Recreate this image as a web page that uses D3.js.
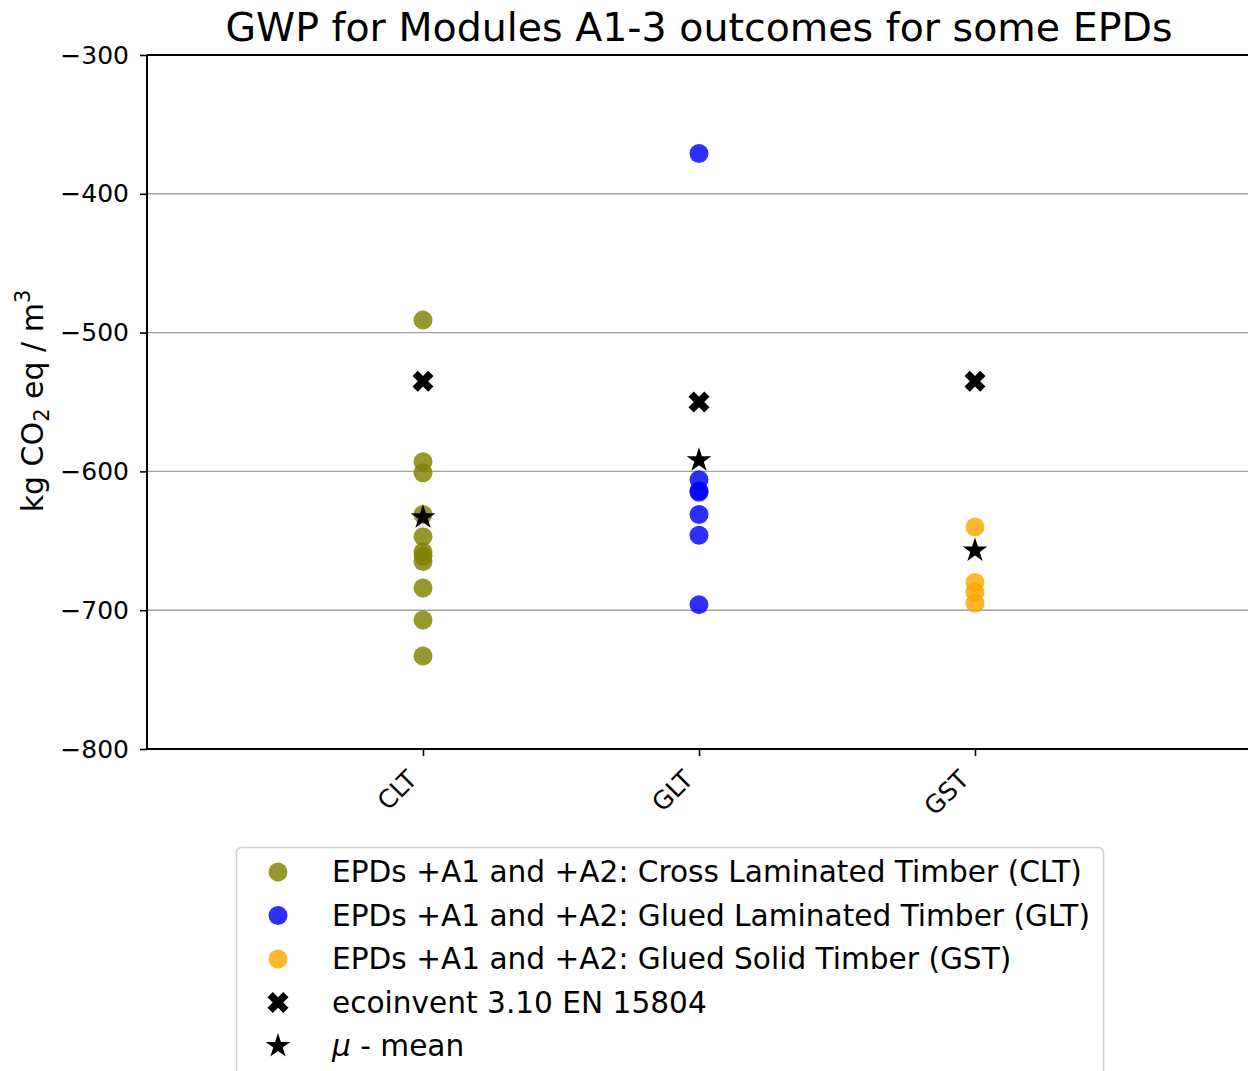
<!DOCTYPE html>
<html>
<head>
<meta charset="utf-8">
<script src="https://cdn.jsdelivr.net/npm/d3@7"></script>
<style>
  html, body { margin: 0; padding: 0; background: #fff; }
  svg { display: block; font-family: "DejaVu Sans", sans-serif; }
</style>
</head>
<body>
<svg id="chart" width="1248" height="1071"></svg>
<script>
// ---- data ----
const categories = ["CLT", "GLT", "GST"];
const cltValues = [-491, -593, -601, -631, -647, -658, -661, -665, -684, -707, -733];
const gltValues = [-371, -606, -614, -615, -631, -646, -696];
const gstValues = [-640, -680, -687, -695];
const ecoinventValues = [-535, -550, -535];
const meanValues = [-633, -592, -657];
const yTicks = [-300, -400, -500, -600, -700, -800];
const seriesLabels = [
  "EPDs +A1 and +A2: Cross Laminated Timber (CLT)",
  "EPDs +A1 and +A2: Glued Laminated Timber (GLT)",
  "EPDs +A1 and +A2: Glued Solid Timber (GST)",
  "ecoinvent 3.10 EN 15804",
  "\u03bc - mean"
];
const seriesColors = ["#808000", "#0000ff", "#ffa500"];
const titleText = "GWP for Modules A1-3 outcomes for some EPDs";

// ---- layout ----
const svg = d3.select("#chart");
const mLeft = 147, mRight = 1251, mTop = 55, mBottom = 749;

const x = d3.scalePoint().domain(categories).range([mLeft, mRight]).padding(1);
const y = d3.scaleLinear().domain([-800, -300]).range([mBottom, mTop]);

// grid
svg.append("g").selectAll("line").data(yTicks.filter(t => t !== -300 && t !== -800)).join("line")
  .attr("x1", mLeft).attr("x2", mRight)
  .attr("y1", d => y(d)).attr("y2", d => y(d))
  .attr("stroke", "#a0a0a0").attr("stroke-width", 1.4);

// axes
const yAxis = d3.axisLeft(y).tickValues(yTicks).tickSize(7).tickPadding(11)
  .tickFormat(d => d3.format("d")(d).replace("-", "\u2212"));
const gy = svg.append("g").attr("transform", `translate(${mLeft},0)`).call(yAxis);
gy.select(".domain").remove();
gy.selectAll(".tick line").attr("stroke", "#000").attr("stroke-width", 1.6);
gy.selectAll(".tick text").attr("font-size", 25).attr("fill", "#000")
  .attr("font-family", "DejaVu Sans");

const xAxis = d3.axisBottom(x).tickSize(7).tickPadding(6);
const gx = svg.append("g").attr("transform", `translate(0,${mBottom})`).call(xAxis);
gx.select(".domain").remove();
gx.selectAll(".tick line").attr("stroke", "#000").attr("stroke-width", 1.6);
gx.selectAll(".tick text").attr("font-size", 25).attr("fill", "#000")
  .attr("font-family", "DejaVu Sans")
  .attr("text-anchor", "end")
  .attr("x", 0).attr("y", 0).attr("dy", null)
  .attr("transform", "translate(-5,32) rotate(-45)");

// spines
const spine = svg.append("g").attr("stroke", "#000").attr("stroke-width", 2).attr("fill", "none");
spine.append("line").attr("x1", mLeft).attr("x2", mLeft).attr("y1", mTop).attr("y2", mBottom);
spine.append("line").attr("x1", mLeft).attr("x2", mRight).attr("y1", mBottom).attr("y2", mBottom);
spine.append("line").attr("x1", mLeft).attr("x2", mRight).attr("y1", mTop).attr("y2", mTop);
spine.append("line").attr("x1", mRight).attr("x2", mRight).attr("y1", mTop).attr("y2", mBottom);

// filled X marker path (matplotlib "X")
function xPath(half) {
  const u = half / (4 / Math.SQRT2);
  const pts = [[-1,-3],[1,-3],[1,-1],[3,-1],[3,1],[1,1],[1,3],[-1,3],[-1,1],[-3,1],[-3,-1],[-1,-1]];
  const c = Math.SQRT1_2;
  const rot = pts.map(([a,b]) => [(a*c - b*c)*u, (a*c + b*c)*u]);
  return "M" + rot.map(p => p[0].toFixed(2) + "," + p[1].toFixed(2)).join("L") + "Z";
}
const starPath = d3.symbol().type(d3.symbolStar).size(190)();
const xMarkPath = xPath(10.5);

// points
const groups = [cltValues, gltValues, gstValues];
groups.forEach((vals, i) => {
  svg.append("g").selectAll("circle").data(vals).join("circle")
    .attr("cx", x(categories[i])).attr("cy", d => y(d)).attr("r", 9.5)
    .attr("fill", seriesColors[i]).attr("fill-opacity", 0.82);
});
svg.append("g").selectAll("path").data(ecoinventValues).join("path")
  .attr("d", xMarkPath)
  .attr("transform", (d, i) => `translate(${x(categories[i])},${y(d)})`)
  .attr("fill", "#000");
svg.append("g").selectAll("path").data(meanValues).join("path")
  .attr("d", starPath)
  .attr("transform", (d, i) => `translate(${x(categories[i])},${y(d)})`)
  .attr("fill", "#000");

// title
svg.append("text").attr("x", 699).attr("y", 41).attr("text-anchor", "middle")
  .attr("font-size", 39.5).attr("fill", "#000").text(titleText);

// y label
const yl = svg.append("text").attr("transform", "translate(43,401) rotate(-90)")
  .attr("text-anchor", "middle").attr("font-size", 30).attr("fill", "#000");
yl.append("tspan").text("kg CO");
yl.append("tspan").attr("font-size", 21).attr("dy", 6).text("2");
yl.append("tspan").attr("dy", -6).text(" eq / m");
yl.append("tspan").attr("font-size", 21).attr("dy", -13).text("3");

// legend
const lg = svg.append("g");
lg.append("rect").attr("x", 236.5).attr("y", 847.5).attr("width", 867).attr("height", 240)
  .attr("rx", 5).attr("fill", "#fff").attr("fill-opacity", 0.8)
  .attr("stroke", "#d0d0d0").attr("stroke-width", 1.5);
const rowY = d3.scalePoint().domain(seriesLabels).range([872, 1046]);
seriesLabels.forEach((lab, i) => {
  const cy = rowY(lab);
  if (i < 3) {
    lg.append("circle").attr("cx", 278).attr("cy", cy).attr("r", 9.5)
      .attr("fill", seriesColors[i]).attr("fill-opacity", 0.82);
  } else if (i === 3) {
    lg.append("path").attr("d", xMarkPath).attr("transform", `translate(278,${cy})`).attr("fill", "#000");
  } else {
    lg.append("path").attr("d", starPath).attr("transform", `translate(278,${cy})`).attr("fill", "#000");
  }
  const t = lg.append("text").attr("x", 332).attr("y", cy + 10).attr("font-size", 29.6).attr("fill", "#000");
  if (i === 4) {
    t.append("tspan").attr("font-style", "italic").text("\u03bc");
    t.append("tspan").text(" - mean");
  } else {
    t.text(lab);
  }
});
</script>
</body>
</html>
